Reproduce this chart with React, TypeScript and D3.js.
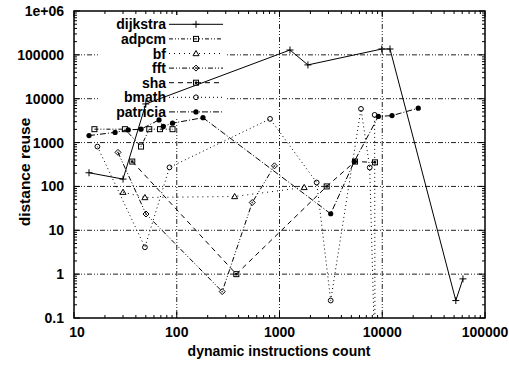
import React from 'react';
import * as d3 from 'd3';

// ---- data ----
const seriesNames = ['dijkstra', 'adpcm', 'bf', 'fft', 'sha', 'bmath', 'patricia'];

const dijkstraX = [14, 30, 50, 1265, 1890, 9900, 11900, 52000, 61000];
const dijkstraY = [205, 147, 7600, 129000, 59000, 136000, 136000, 0.25, 0.78];

const adpcmX = [15.8, 31.3, 44.9, 54, 68.7, 91];
const adpcmY = [2020, 2020, 811, 2020, 2020, 2020];

const bfX = [30, 49, 366, 1740];
const bfY = [74, 56, 59, 95];

const fftX = [26.8, 50.2, 277, 543, 893];
const fftY = [598, 23.5, 0.4, 43, 295];

const shaX = [36.9, 380, 2880, 5430, 8490];
const shaY = [369, 1, 100, 369, 354];

const bmathX = [16.9, 49, 85, 809, 2300, 3150, 6210, 7550, 8500, 8430];
const bmathY = [811, 4.1, 272, 3467, 123, 0.25, 5860, 270, 0.01, 4280];

const patriciaX = [14, 25.1, 33.7, 44.9, 67.2, 74, 90.9, 180, 3150, 5340, 9160, 12450, 22400];
const patriciaY = [1443, 1708, 1945, 2020, 3290, 2340, 2770, 3690, 23.8, 369, 3950, 4120, 6080];

const xTickValues = [10, 100, 1000, 10000, 100000];
const xTickLabels = ['10', '100', '1000', '10000', '100000'];
const yTickValues = [0.1, 1, 10, 100, 1000, 10000, 100000, 1000000];
const yTickLabels = ['0.1', '1', '10', '100', '1000', '10000', '100000', '1e+06'];

const xTitle = 'dynamic instructions count';
const yTitle = 'distance reuse';

// ---- layout ----
const W = 509, H = 366;
const L = 74, R = 485, T = 11, B = 318;
const FONT = "'Liberation Sans', Arial, Helvetica, sans-serif";

const xs = d3.scaleLog().domain([10, 100000]).range([L, R]);
const ys = d3.scaleLog().domain([0.1, 1000000]).range([B, T]);

type MarkerType = 'plus' | 'square' | 'triangle' | 'diamond' | 'sqdot' | 'circle' | 'dot';

const series = [
  { xsArr: dijkstraX, ysArr: dijkstraY, dash: undefined, marker: 'plus' as MarkerType },
  { xsArr: adpcmX, ysArr: adpcmY, dash: '4,2,1,2,1,2', marker: 'square' as MarkerType },
  { xsArr: bfX, ysArr: bfY, dash: '1,4', marker: 'triangle' as MarkerType },
  { xsArr: fftX, ysArr: fftY, dash: '5,2,1,2,1,2', marker: 'diamond' as MarkerType },
  { xsArr: shaX, ysArr: shaY, dash: '5,4', marker: 'sqdot' as MarkerType },
  { xsArr: bmathX, ysArr: bmathY, dash: '1,3', marker: 'circle' as MarkerType },
  { xsArr: patriciaX, ysArr: patriciaY, dash: '6,2,1,2', marker: 'dot' as MarkerType },
];

function Marker({ type, x, y }: { type: MarkerType; x: number; y: number }) {
  const s = 'black';
  switch (type) {
    case 'plus':
      return <path d={`M${x - 3.5},${y}H${x + 3.5}M${x},${y - 3.5}V${y + 3.5}`} stroke={s} strokeWidth={1} fill="none" />;
    case 'square':
      return <rect x={x - 2.5} y={y - 2.5} width={5} height={5} stroke={s} strokeWidth={1} fill="none" />;
    case 'sqdot':
      return (
        <g>
          <rect x={x - 2.5} y={y - 2.5} width={5} height={5} stroke={s} strokeWidth={1} fill="none" />
          <rect x={x - 1.2} y={y - 1.2} width={2.4} height={2.4} fill={s} />
        </g>
      );
    case 'triangle':
      return <path d={`M${x},${y - 3}L${x + 3},${y + 2.2}L${x - 3},${y + 2.2}Z`} stroke={s} strokeWidth={1} fill="none" />;
    case 'diamond':
      return (
        <g>
          <path d={`M${x},${y - 3}L${x + 3},${y}L${x},${y + 3}L${x - 3},${y}Z`} stroke={s} strokeWidth={1} fill="none" />
          <circle cx={x} cy={y} r={0.9} fill="#555" />
        </g>
      );
    case 'circle':
      return <circle cx={x} cy={y} r={2.4} stroke={s} strokeWidth={1} fill="none" />;
    case 'dot':
      return <circle cx={x} cy={y} r={2.6} fill={s} />;
  }
  return null;
}

export default function App() {
  const minorX: number[] = [];
  for (let e = 1; e < 5; e++) for (let k = 2; k <= 9; k++) minorX.push(k * Math.pow(10, e));
  const minorY: number[] = [];
  for (let e = -1; e < 6; e++) for (let k = 2; k <= 9; k++) minorY.push(k * Math.pow(10, e));

  const line = d3.line<[number, number]>().x(d => xs(d[0])).y(d => ys(d[1]));

  const gridDash = '5,2,1,2,1,2';
  const legendX0 = 169, legendX1 = 223, legendMarkX = 196, legendTextX = 166;
  const rowY = (i: number) => 24.3 + i * 14.6;

  return (
    <svg width={W} height={H} style={{ position: 'absolute', left: 0, top: 0, background: 'white' }}
      fontFamily={FONT} fontWeight="bold">
      <defs>
        <clipPath id="plotclip"><rect x={L} y={T} width={R - L} height={B - T} /></clipPath>
      </defs>
      <rect x={0} y={0} width={W} height={H} fill="white" />
      {/* grid */}
      {yTickValues.slice(1, -1).map(v => (
        <line key={'gy' + v} x1={L} x2={R} y1={ys(v)} y2={ys(v)} stroke="#222" strokeWidth={1} strokeDasharray={gridDash} />
      ))}
      {xTickValues.slice(1, -1).map(v => (
        <line key={'gx' + v} x1={xs(v)} x2={xs(v)} y1={T} y2={B} stroke="#222" strokeWidth={1} strokeDasharray={gridDash} />
      ))}
      {/* minor ticks */}
      {minorX.map(v => (
        <g key={'mx' + v}>
          <line x1={xs(v)} x2={xs(v)} y1={B} y2={B - 3} stroke="black" />
          <line x1={xs(v)} x2={xs(v)} y1={T} y2={T + 3} stroke="black" />
        </g>
      ))}
      {minorY.map(v => (
        <g key={'my' + v}>
          <line x1={L} x2={L + 3} y1={ys(v)} y2={ys(v)} stroke="black" />
          <line x1={R} x2={R - 3} y1={ys(v)} y2={ys(v)} stroke="black" />
        </g>
      ))}
      {xTickValues.map(v => (
        <g key={'Mx' + v}>
          <line x1={xs(v)} x2={xs(v)} y1={B} y2={B - 6} stroke="black" />
          <line x1={xs(v)} x2={xs(v)} y1={T} y2={T + 6} stroke="black" />
        </g>
      ))}
      {yTickValues.map(v => (
        <g key={'My' + v}>
          <line x1={L} x2={L + 6} y1={ys(v)} y2={ys(v)} stroke="black" />
          <line x1={R} x2={R - 6} y1={ys(v)} y2={ys(v)} stroke="black" />
        </g>
      ))}
      {/* legend background */}
      <rect x={98} y={15} width={128} height={104} fill="white" />
      {/* legend */}
      {seriesNames.map((n, i) => (
        <g key={'lg' + n}>
          <text x={legendTextX} y={rowY(i) + 5} textAnchor="end" fontSize={14}>{n}</text>
          <line x1={legendX0} x2={legendX1} y1={rowY(i)} y2={rowY(i)} stroke="black" strokeWidth={1}
            strokeDasharray={series[i].dash} />
          <Marker type={series[i].marker} x={legendMarkX} y={rowY(i)} />
        </g>
      ))}
      {/* data */}
      <g clipPath="url(#plotclip)">
        {series.map((s, i) => {
          const pts: [number, number][] = s.xsArr.map((x, j) => [x, s.ysArr[j]]);
          return (
            <g key={'s' + i}>
              <path d={line(pts) || ''} fill="none" stroke="black" strokeWidth={1} strokeDasharray={s.dash} />
              {pts.map((p, j) => (
                <Marker key={j} type={s.marker} x={xs(p[0])} y={ys(p[1])} />
              ))}
            </g>
          );
        })}
      </g>
      {/* frame */}
      <rect x={L} y={T} width={R - L} height={B - T} fill="none" stroke="black" strokeWidth={1.5} />
      {/* tick labels */}
      {yTickValues.map((v, i) => (
        <text key={'yl' + v} x={64} y={ys(v) + 5} textAnchor="end" fontSize={14}>{yTickLabels[i]}</text>
      ))}
      {xTickValues.map((v, i) => (
        <text key={'xl' + v} x={xs(v) + (i === 0 ? 3 : 0)} y={337} textAnchor="middle" fontSize={14}>{xTickLabels[i]}</text>
      ))}
      <text x={279} y={356} textAnchor="middle" fontSize={14}>{xTitle}</text>
      <text transform={`translate(30,172) rotate(-90)`} textAnchor="middle" fontSize={15.5}>{yTitle}</text>
    </svg>
  );
}
